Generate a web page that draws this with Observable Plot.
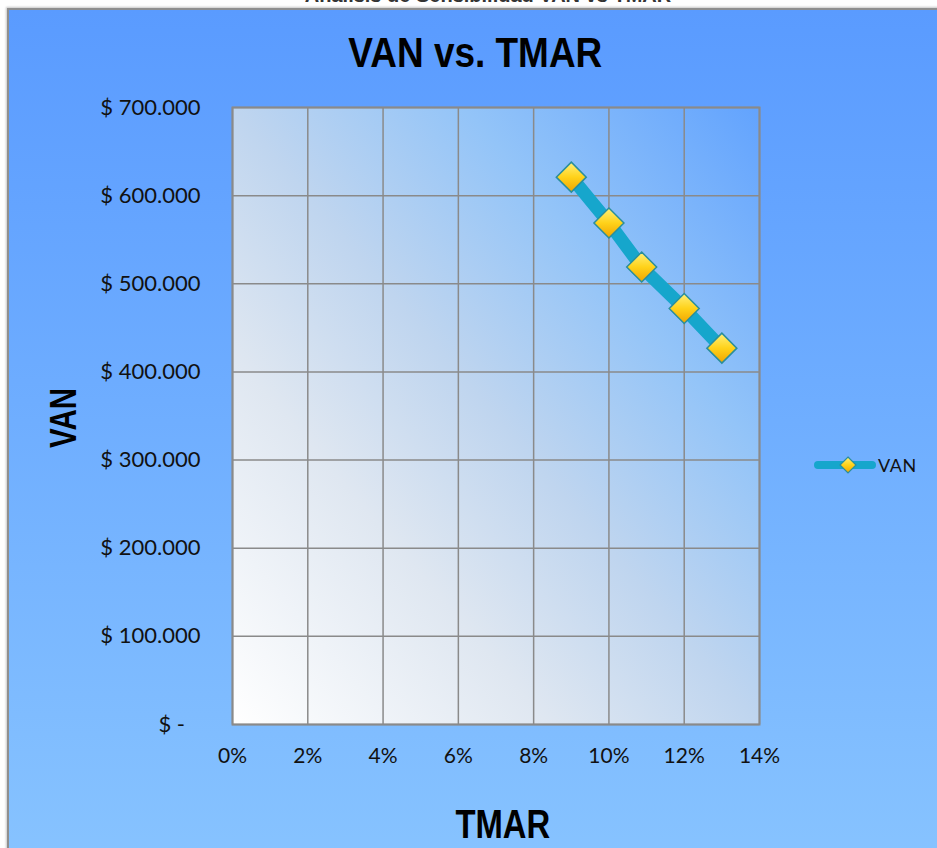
<!DOCTYPE html>
<html>
<head>
<meta charset="utf-8">
<script src="https://cdn.jsdelivr.net/npm/d3@7"></script>
<script src="https://cdn.jsdelivr.net/npm/@observablehq/plot@0.6"></script>
<style>
  html, body { margin: 0; padding: 0; background: #ffffff; }
  #wrap { position: relative; width: 937px; height: 848px; overflow: hidden; background: #ffffff; }
  #supertitle { position: absolute; left: 0; width: 976px; top: -15px; text-align: center;
    font: bold 20px "Liberation Sans", Arial, sans-serif; line-height: 20px; color: #333; }
  #panel { position: absolute; left: 7px; top: 8px; width: 960px; height: 870px;
    border-left: 2px solid #8f8f8f; border-top: 2px solid #8f8f8f;
    box-shadow: -1px -1px 2px #c8c8c8;
    background: linear-gradient(to bottom, #5a9bff 0%, #6eadff 45%, #88c4ff 100%); }
  .narrow { display: inline-block; transform: scaleX(0.82); transform-origin: center; }
  #title { position: absolute; left: 7px; width: 937px; top: 32px; text-align: center;
    font: bold 42px "Liberation Sans", Arial, sans-serif; line-height: 42px; color: #000; }
  #title .narrow { transform: scaleX(0.88); }
  #xlabel { position: absolute; left: 350px; width: 306px; top: 804px; text-align: center;
    font: bold 40px "Liberation Sans", Arial, sans-serif; line-height: 40px; color: #000; }
  #ylabel { position: absolute; left: 64px; top: 418px; width: 0; height: 0; }
  #ylabel span { position: absolute; left: -60px; top: -18px; width: 120px; text-align: center;
    font: bold 36px "Liberation Sans", Arial, sans-serif; line-height: 36px; color: #000;
    transform: rotate(-90deg) scaleX(0.82); transform-origin: center; }
  #chart { position: absolute; left: 0; top: 0; }
  #legend { position: absolute; left: 814px; top: 453px; display: flex; align-items: center;
    font: 18px Lato, "Open Sans", sans-serif; color: #111; letter-spacing: 0.5px; }
</style>
</head>
<body>
<div id="wrap">
  <div id="supertitle">Análisis de Sensibilidad VAN vs TMAR</div>
  <div id="panel"></div>
  <div id="title"><span class="narrow">VAN vs. TMAR</span></div>
  <div id="ylabel"><span>VAN</span></div>
  <div id="xlabel"><span class="narrow">TMAR</span></div>
  <div id="chart"></div>
  <div id="legend">
    <svg width="62" height="24" viewBox="0 0 62 24">
      <defs>
        <linearGradient id="goldL" x1="0" y1="0" x2="0" y2="1">
          <stop offset="0" stop-color="#fff07a"/>
          <stop offset="0.5" stop-color="#ffd21a"/>
          <stop offset="1" stop-color="#f0a400"/>
        </linearGradient>
      </defs>
      <line x1="4" y1="12" x2="58" y2="12" stroke="#16a6cc" stroke-width="8" stroke-linecap="round"/>
      <path d="M34,4 L42,12 L34,20 L26,12 Z" fill="url(#goldL)" stroke="#2a8e9c" stroke-width="1.2"/>
    </svg>
    <span style="margin-left:2px">VAN</span>
  </div>
</div>
<script>
// ---- data ----
const tmar = [0.09, 0.10, 0.1087, 0.12, 0.13];
const van = [621000, 569000, 519000, 472000, 427000];
const xTicks = [0, 0.02, 0.04, 0.06, 0.08, 0.10, 0.12, 0.14];
const xTickLabels = ["0%", "2%", "4%", "6%", "8%", "10%", "12%", "14%"];
const yTicks = [0, 100000, 200000, 300000, 400000, 500000, 600000, 700000];
const yTickLabels = ["$ -\u2007\u2009", "$ 100.000", "$ 200.000", "$ 300.000", "$ 400.000", "$ 500.000", "$ 600.000", "$ 700.000"];

const data = tmar.map((t, i) => ({tmar: t, van: van[i]}));

const gridColor = "#8a8a8a";

const chart = Plot.plot({
  width: 937,
  height: 848,
  marginLeft: 232,
  marginRight: 178,
  marginTop: 107,
  marginBottom: 124,
  style: {background: "transparent", fontFamily: "Lato, 'Open Sans', sans-serif", fontSize: "21px", color: "#111", overflow: "visible"},
  x: {domain: [0, 0.14]},
  y: {domain: [0, 700000]},
  marks: [
    Plot.frame({fill: "url(#plotGrad)"}),
    Plot.gridX(xTicks, {stroke: gridColor, strokeOpacity: 1, strokeWidth: 1.5}),
    Plot.gridY(yTicks, {stroke: gridColor, strokeOpacity: 1, strokeWidth: 1.5}),
    Plot.frame({stroke: gridColor, strokeWidth: 2}),
    Plot.axisX(xTicks, {tickSize: 0, tickPadding: 24, label: null,
      tickFormat: d => xTickLabels[xTicks.findIndex(t => Math.abs(t - d) < 1e-9)]}),
    Plot.axisY(yTicks, {tickSize: 0, tickPadding: 32, label: null, fontSize: 22,
      tickFormat: d => yTickLabels[yTicks.indexOf(d)]}),
    Plot.line(data, {x: "tmar", y: "van", stroke: "#16a6cc", strokeWidth: 13}),
    Plot.dot(data, {x: "tmar", y: "van", symbol: d3.symbolDiamond2, r: 13.5,
      fill: "url(#goldGrad)", stroke: "#2a8e9c", strokeWidth: 1.5})
  ]
});

d3.select(chart).insert("defs", ":first-child").html(`
  <linearGradient id="plotGrad" x1="0" y1="1" x2="1" y2="0">
    <stop offset="0" stop-color="#ffffff"/>
    <stop offset="0.3" stop-color="#dfe7f1"/>
    <stop offset="0.5" stop-color="#bfd5ef"/>
    <stop offset="0.72" stop-color="#93c4f8"/>
    <stop offset="1" stop-color="#62a3fe"/>
  </linearGradient>
  <linearGradient id="goldGrad" x1="0" y1="0" x2="0" y2="1">
    <stop offset="0" stop-color="#fff07a"/>
    <stop offset="0.5" stop-color="#ffd21a"/>
    <stop offset="1" stop-color="#f0a400"/>
  </linearGradient>`);

document.getElementById("chart").appendChild(chart);
</script>
</body>
</html>
